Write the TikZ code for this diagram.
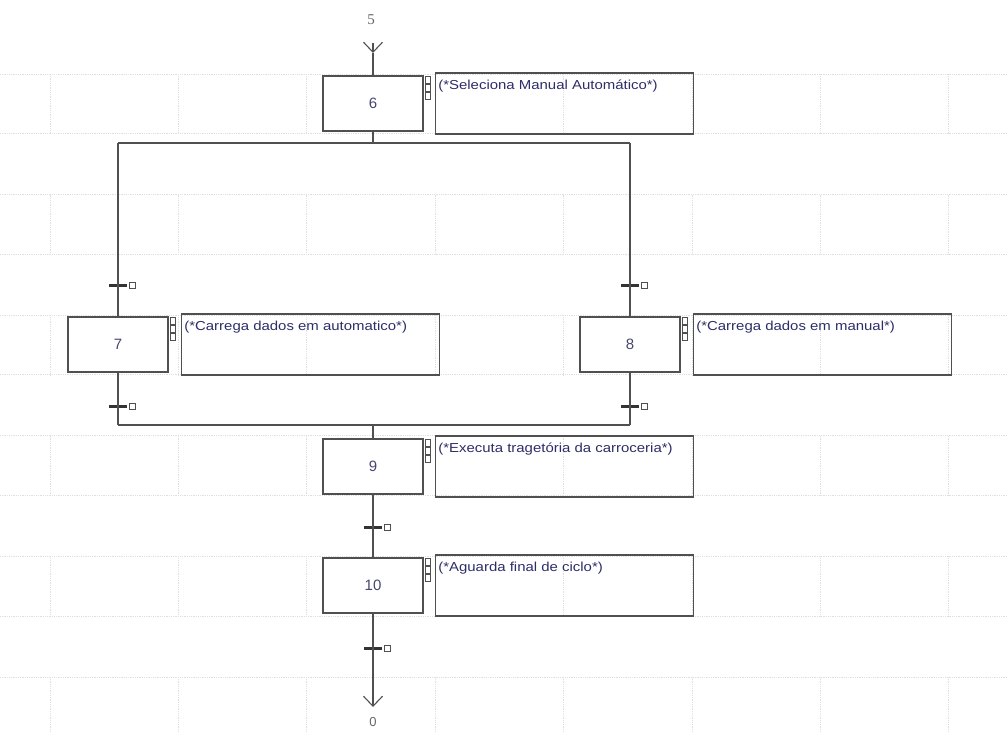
\documentclass[tikz,border=0pt]{standalone}
\usepackage{fontspec}
\setmainfont{Liberation Sans}
\newfontfamily\labfont{Liberation Serif}
\usepackage{tikz}
\usetikzlibrary{positioning,arrows.meta}

\definecolor{boxgray}{RGB}{80,80,80}
\definecolor{txtblue}{RGB}{45,45,105}
\newcommand\grafcetfont{\fontsize{13}{15}\selectfont}

\begin{document}
\begin{tikzpicture}[
  x=1pt,y=-1pt,
  node distance=11pt,
  stepbox/.style={draw=boxgray,line width=1.3pt,minimum width=100pt,minimum height=55pt,inner sep=0pt,font=\fontsize{15}{17}\selectfont,text=txtblue!70!gray},
  actbox/.style={draw=boxgray,line width=1.6pt,minimum width=258pt,minimum height=61pt,inner sep=0pt},
  acttext/.style={anchor=north west,inner sep=3pt,yshift=-5pt,font=\grafcetfont,text=txtblue,xscale=1.15},
  trans/.style={fill=black!80,minimum width=18pt,minimum height=3pt,inner sep=0pt},
  tsq/.style={draw=boxgray,line width=0.6pt,minimum size=6pt,inner sep=0pt},
  link/.style={draw=boxgray,line width=1.1pt},
  gridline/.style={gray!25,densely dotted,line width=0.8pt}
]
\useasboundingbox (0,0) rectangle (1007,732);

% background grid
\foreach \r in {0,...,5} {
  \draw[gridline] (0,74+120.6*\r) -- (1007,74+120.6*\r);
  \draw[gridline] (0,133.5+120.6*\r) -- (1007,133.5+120.6*\r);
  \foreach \c in {0,...,7}
    \draw[gridline] (50+128.4*\c,74+120.6*\r) -- (50+128.4*\c,133.5+120.6*\r);
}

% steps
\node[stepbox] (s6) at (373,103.5) {6};
\node[stepbox] (s7) at (118,344.5) {7};
\node[stepbox] (s8) at (630,344.5) {8};
\node[stepbox] (s9) at (373,466.5) {9};
\node[stepbox] (s10) at (373,585.5) {10};

% actions
\node[actbox,right=11pt of s6] (a6) {};
\node[actbox,right=12pt of s7] (a7) {};
\node[actbox,right=12pt of s8] (a8) {};
\node[actbox,right=11pt of s9] (a9) {};
\node[actbox,right=11pt of s10] (a10) {};
\node[acttext] (a6txt) at (a6.north west) {(*Seleciona Manual Automático*)};
\node[acttext] (a7txt) at (a7.north west) {(*Carrega dados em automatico*)};
\node[acttext] (a8txt) at (a8.north west) {(*Carrega dados em manual*)};
\node[acttext] (a9txt) at (a9.north west) {(*Executa tragetória da carroceria*)};
\node[acttext] (a10txt) at (a10.north west) {(*Aguarda final de ciclo*)};

% small markers beside each step
\foreach \s in {s6,s7,s8,s9,s10}
  \foreach \k in {0,1,2}
    \draw[boxgray,line width=0.6pt] ([shift={(1.5,1+8*\k)}]\s.north east) rectangle ++(5,7);

% transitions
\node[trans] (t7a) at (118,285) {};
\node[trans] (t7b) at (118,406) {};
\node[trans] (t8a) at (630,285) {};
\node[trans] (t8b) at (630,406) {};
\node[trans] (t9) at (373,527) {};
\node[trans] (t10) at (373,648) {};
\foreach \t in {t7a,t7b,t8a,t8b,t9,t10}
  \node[tsq,right=2pt of \t] (\t q) {};

% in / out
\node[font=\labfont\fontsize{15}{17}\selectfont,text=gray!80!black] (in5) at (371,20) {5};
\node[font=\grafcetfont,text=gray!80!black] (out0) at (373,722) {0};
\coordinate (v5) at (373,53);
\coordinate (v0) at (373,707);
\coordinate (divL) at (118,143);
\coordinate (divR) at (630,143);
\coordinate (cvL) at (118,425);
\coordinate (cvR) at (630,425);

% links
\draw[link,-{Straight Barb[length=10pt,width=19pt]}] ([yshift=10pt]v5) -- (v5);
\draw[link] (v5) -- (s6);
\draw[link] (s6) -- (s6 |- divL);
\draw[link] (divL) -- (divR);
\draw[link] (divL) -- (s7);
\draw[link] (divR) -- (s8);
\draw[link] (s7) -- (cvL);
\draw[link] (s8) -- (cvR);
\draw[link] (cvL) -- (cvR);
\draw[link] (s9 |- cvL) -- (s9);
\draw[link] (s9) -- (s10);
\draw[link,-{Straight Barb[length=10pt,width=19pt]}] (s10) -- (v0);
\end{tikzpicture}
\end{document}
